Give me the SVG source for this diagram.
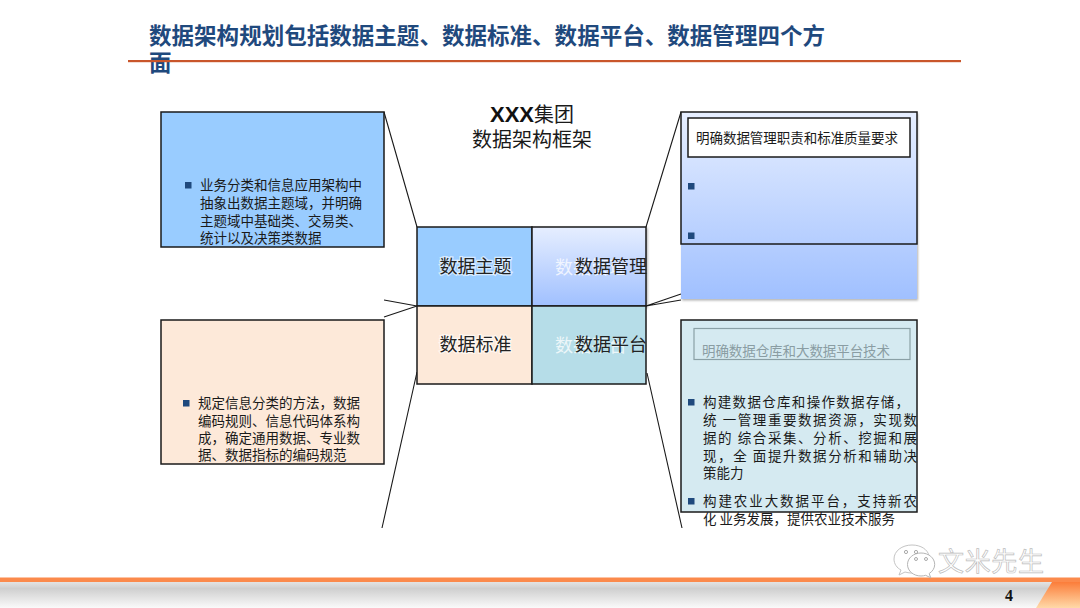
<svg xmlns="http://www.w3.org/2000/svg" width="1080" height="608" viewBox="0 0 1080 608">
<style>
text{font-family:"Noto Sans CJK SC","Liberation Sans",sans-serif;fill:#1a1a1a}
.title{font-size:22.5px;font-weight:700;fill:#1f497d}
.cap{font-size:20px}
.cell{font-size:18px;fill:#222}
.halo{paint-order:stroke;stroke:#fff;stroke-opacity:.6;stroke-width:2.5px}
.ghost{font-size:18px;fill:#fff;fill-opacity:.75}
.b{font-size:13.5px}
.bl{fill:#1f497d}
.box{stroke:#1a1a1a;stroke-width:1.5}
.ln{stroke:#1a1a1a;stroke-width:1.1;fill:none}
</style>
<defs>
<linearGradient id="mg" x1="0" y1="0" x2="0" y2="1"><stop offset="0" stop-color="#e6eeff"/><stop offset="1" stop-color="#a0c0ff"/></linearGradient>
<linearGradient id="fg" x1="0" y1="0" x2="0" y2="1"><stop offset="0" stop-color="#f0f0f0"/><stop offset=".35" stop-color="#cfcfcf"/><stop offset="1" stop-color="#fafafa"/></linearGradient>
<linearGradient id="og" x1="0" y1="0" x2="0" y2="1"><stop offset="0" stop-color="#fb7d3a"/><stop offset="1" stop-color="#ffd9a8"/></linearGradient>
<filter id="sh" x="-5%" y="-5%" width="110%" height="110%"><feDropShadow dx="1" dy="1.5" stdDeviation="1.2" flood-color="#000" flood-opacity=".3"/></filter>
</defs>
<rect width="1080" height="608" fill="#fff"/>
<g id="title">
<text class="title" x="149" y="44" textLength="676" lengthAdjust="spacing">数据架构规划包括数据主题、数据标准、数据平台、数据管理四个方</text>
<text class="title" x="149" y="71">面</text>
<rect x="128" y="60" width="833" height="2.2" fill="#c9562b"/>
</g>
<g id="caption">
<text class="cap" x="532" y="122" text-anchor="middle"><tspan font-family="Liberation Sans" font-weight="700" font-size="22" fill="#111">XXX</tspan>集团</text>
<text class="cap" x="532" y="147" text-anchor="middle">数据架构框架</text>
</g>
<g id="connectors">
<path class="ln" d="M384 112L417 227M384 300L417 306M384 317L417 306M382 528L417 372M681 112L646 227M681 294L646 306M681 300L646 306M682 528L647 373"/>
</g>
<g id="box-theme">
<rect class="box" x="161" y="112" width="223" height="135" fill="#99ccff"/>
<rect class="bl" x="185" y="182" width="6.5" height="6.5"/>
<text class="b" x="200" y="190" textLength="162">业务分类和信息应用架构中</text>
<text class="b" x="200" y="208" textLength="162">抽象出数据主题域，并明确</text>
<text class="b" x="200" y="226" textLength="162">主题域中基础类、交易类、</text>
<text class="b" x="200" y="243">统计以及决策类数据</text>
</g>
<g id="box-standard">
<rect class="box" x="161" y="320" width="223" height="144" fill="#fde9d9"/>
<rect class="bl" x="183" y="400" width="6.5" height="6.5"/>
<text class="b" x="198" y="408" textLength="162">规定信息分类的方法，数据</text>
<text class="b" x="198" y="426" textLength="162">编码规则、信息代码体系构</text>
<text class="b" x="198" y="443" textLength="162">成，确定通用数据、专业数</text>
<text class="b" x="198" y="460">据、数据指标的编码规范</text>
</g>
<g id="box-management">
<rect x="681" y="112" width="236" height="187" fill="url(#mg)" filter="url(#sh)"/>
<rect class="box" x="681" y="112" width="236" height="132" fill="none"/>
<rect class="box" x="688" y="118" width="222" height="39" fill="#fff"/>
<text class="b" x="696" y="143" textLength="202">明确数据管理职责和标准质量要求</text>
<rect class="bl" x="688" y="183" width="6.5" height="6.5"/>
<rect class="bl" x="688" y="232.500" width="6.5" height="6.5"/>
</g>
<g id="box-platform">
<rect class="box" x="681" y="320" width="236" height="192" fill="#d5eaf1"/>
<rect x="694" y="328.500" width="216" height="31" fill="none" stroke="#8aa0a6" stroke-width="1.2"/>
<text class="b" x="702" y="356" textLength="188" style="fill:#8a9da3">明确数据仓库和大数据平台技术</text>
<rect class="bl" x="688" y="399" width="6.500" height="6.500"/>
<text class="b" x="703" y="407" textLength="206">构建数据仓库和操作数据存储，</text>
<text class="b" x="703" y="425" textLength="214">统 一管理重要数据资源，实现数</text>
<text class="b" x="703" y="443" textLength="214">据的 综合采集、分析、挖掘和展</text>
<text class="b" x="703" y="461" textLength="214">现，全 面提升数据分析和辅助决</text>
<text class="b" x="703" y="478">策能力</text>
<rect class="bl" x="688" y="498" width="6.500" height="6.500"/>
<text class="b" x="703" y="506" textLength="214">构建农业大数据平台，支持新农</text>
<text class="b" x="703" y="524" textLength="192">化 业务发展，提供农业技术服务</text>
</g>
<g id="cell-theme">
<rect class="box" x="417" y="227" width="115" height="79" fill="#99ccff"/>
<text class="cell halo" x="439.500" y="273">数据主题</text>
</g>
<g id="cell-management">
<rect class="box" x="532" y="227" width="114" height="79" fill="url(#mg)" filter="url(#sh)"/>
<text class="ghost" x="555" y="274">数据管理</text>
<text class="cell" x="575" y="273">数据管理</text>
</g>
<g id="cell-standard">
<rect class="box" x="417" y="306" width="115" height="78" fill="#fde9d9"/>
<text class="cell halo" x="439.500" y="351">数据标准</text>
</g>
<g id="cell-platform">
<rect class="box" x="532" y="306" width="114" height="78" fill="#b6dde8"/>
<text class="ghost" x="555" y="352">数据平台</text>
<text class="cell" x="575" y="351">数据平台</text>
</g>
<g id="footer">
<rect y="578" width="1080" height="30" fill="url(#fg)"/>
<rect y="577.500" width="1080" height="4.500" fill="#fb8a4c"/>
<path d="M1052 582H1080V608H1036Z" fill="url(#og)"/>
<text x="1009" y="601" text-anchor="middle" style="font-family:'Liberation Serif',serif;font-size:16px;font-weight:700;fill:#111">4</text>
</g>
<g id="watermark">
<path d="M912 545c-10 0-18 6-18 14 0 5 3 9 7 11l-2 5 6-3c2 .5 4 1 6 1 1 0 2 0 3-.2-.6-1.500-1-3-1-4.800 0-7 7-12.500 15-12.500h1c-1.500-6-8-10.500-17-10.500z" fill="#fff" stroke="#c4c4c4" stroke-width="1"/>
<path d="M921 553c-7.500 0-13.500 5-13.500 11.500s6 11.500 13.500 11.500c1.700 0 3.200-.3 4.700-.7l5 2.500-1.500-4.300c3.300-2 5.500-5.300 5.500-9 0-6.500-6-11.500-13.700-11.500z" fill="#fff" stroke="#b5b5b5" stroke-width="1"/>
<circle cx="906" cy="552" r="1.600" fill="none" stroke="#aaa"/><circle cx="916" cy="552" r="1.600" fill="none" stroke="#aaa"/>
<circle cx="916" cy="559" r="1.500" fill="none" stroke="#aaa"/><circle cx="926" cy="559" r="1.500" fill="none" stroke="#aaa"/>
<text x="938" y="571" textLength="106" style="font-size:26px;fill:#fff;stroke:#bdbdbd;stroke-width:.7">文米先生</text>
</g>
</svg>
